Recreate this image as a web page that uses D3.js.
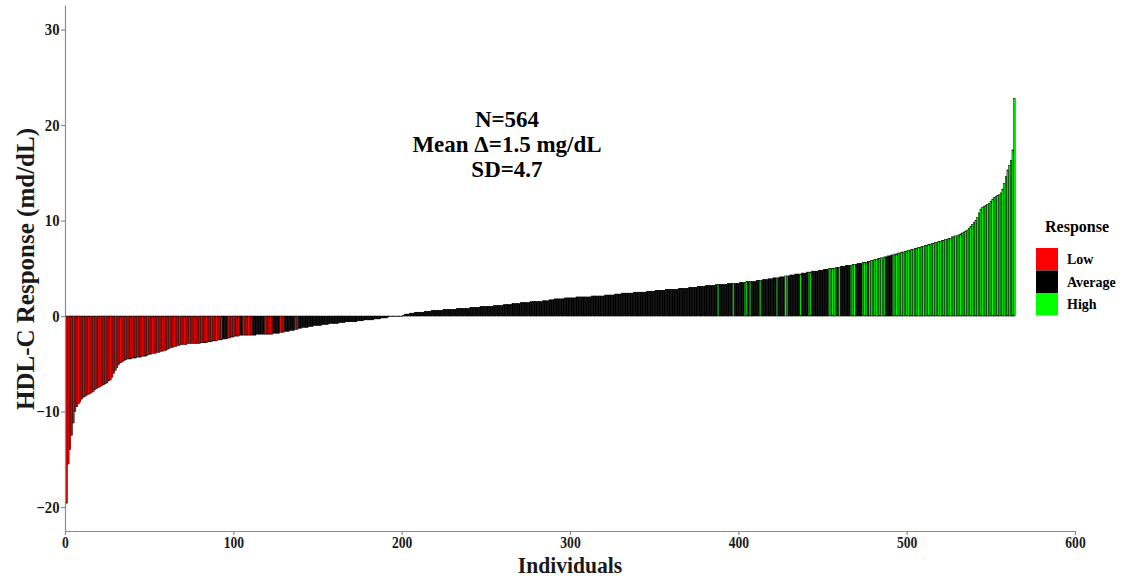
<!DOCTYPE html>
<html>
<head>
<meta charset="utf-8">
<script src="https://cdn.jsdelivr.net/npm/d3@7"></script>
<style>
html,body{margin:0;padding:0;background:#fff;}
svg{display:block;}
text{font-family:"Liberation Serif","Times New Roman",serif;font-weight:bold;}
</style>
</head>
<body>
<svg id="chart" width="1130" height="578"></svg>
<script>
// HDL-C response per individual, sorted ascending (mg/dL)
const hdlResponse = [
-19.6,-15.5,-14.0,-12.5,-11.2,-10.0,-9.5,-9.2,-9.0,-8.7,
-8.5,-8.4,-8.3,-8.2,-8.1,-8.0,-7.9,-7.7,-7.6,-7.5,
-7.4,-7.3,-7.2,-7.1,-7.0,-6.8,-6.7,-6.4,-6.0,-5.7,
-5.4,-5.1,-4.9,-4.8,-4.7,-4.6,-4.5,-4.5,-4.5,-4.4,
-4.4,-4.4,-4.3,-4.3,-4.3,-4.2,-4.2,-4.2,-4.1,-4.0,
-4.0,-3.9,-3.9,-3.9,-3.8,-3.8,-3.7,-3.7,-3.6,-3.6,
-3.5,-3.4,-3.3,-3.3,-3.2,-3.2,-3.1,-3.1,-3.0,-3.0,
-3.0,-3.0,-2.9,-2.9,-2.9,-2.9,-2.9,-2.9,-2.9,-2.9,
-2.8,-2.8,-2.8,-2.8,-2.7,-2.7,-2.7,-2.6,-2.6,-2.6,
-2.5,-2.5,-2.5,-2.4,-2.4,-2.4,-2.3,-2.3,-2.2,-2.2,
-2.1,-2.1,-2.1,-2.0,-2.0,-2.0,-2.0,-2.0,-2.0,-2.0,
-2.0,-2.0,-2.0,-1.9,-1.9,-1.9,-1.9,-1.9,-1.9,-1.9,
-1.9,-1.9,-1.9,-1.8,-1.8,-1.8,-1.8,-1.7,-1.7,-1.7,
-1.6,-1.6,-1.6,-1.5,-1.5,-1.5,-1.4,-1.4,-1.3,-1.3,
-1.2,-1.2,-1.2,-1.2,-1.1,-1.1,-1.1,-1.0,-1.0,-1.0,
-1.0,-1.0,-0.9,-0.9,-0.9,-0.9,-0.8,-0.8,-0.8,-0.8,
-0.8,-0.8,-0.7,-0.7,-0.7,-0.7,-0.6,-0.6,-0.6,-0.6,
-0.6,-0.6,-0.6,-0.5,-0.5,-0.5,-0.5,-0.4,-0.4,-0.4,
-0.4,-0.4,-0.4,-0.3,-0.3,-0.3,-0.3,-0.2,-0.2,-0.2,
-0.2,-0.1,-0.05,0,0,0,0,0,0,0,
0.05,0.2,0.2,0.2,0.3,0.3,0.3,0.4,0.4,0.4,
0.4,0.4,0.4,0.5,0.5,0.5,0.5,0.6,0.6,0.6,
0.6,0.6,0.6,0.6,0.7,0.7,0.7,0.7,0.7,0.7,
0.7,0.7,0.8,0.8,0.8,0.8,0.8,0.8,0.8,0.8,
0.9,0.9,0.9,0.9,0.9,0.9,1.0,1.0,1.0,1.0,
1.0,1.0,1.0,1.0,1.1,1.1,1.1,1.1,1.1,1.1,
1.2,1.2,1.2,1.2,1.2,1.3,1.3,1.3,1.3,1.3,
1.4,1.4,1.4,1.4,1.4,1.4,1.5,1.5,1.5,1.5,
1.5,1.5,1.5,1.6,1.6,1.6,1.6,1.7,1.7,1.7,
1.8,1.8,1.8,1.8,1.8,1.8,1.9,1.9,1.9,1.9,
1.9,1.9,1.9,2.0,2.0,2.0,2.0,2.0,2.0,2.0,
2.0,2.0,2.1,2.1,2.1,2.1,2.1,2.1,2.1,2.1,
2.2,2.2,2.2,2.2,2.2,2.2,2.3,2.3,2.3,2.3,
2.4,2.4,2.4,2.4,2.4,2.4,2.4,2.5,2.5,2.5,
2.5,2.5,2.5,2.5,2.5,2.6,2.6,2.6,2.6,2.6,
2.7,2.7,2.7,2.7,2.7,2.7,2.8,2.8,2.8,2.8,
2.8,2.8,2.8,2.8,2.9,2.9,2.9,2.9,2.9,2.9,
3.0,3.0,3.0,3.0,3.0,3.1,3.1,3.1,3.1,3.1,
3.2,3.2,3.2,3.2,3.2,3.2,3.3,3.3,3.3,3.3,
3.3,3.3,3.3,3.4,3.4,3.4,3.4,3.4,3.4,3.4,
3.5,3.5,3.5,3.5,3.6,3.6,3.6,3.6,3.6,3.6,
3.7,3.7,3.7,3.7,3.8,3.8,3.8,3.9,3.9,3.9,
4.0,4.0,4.0,4.0,4.1,4.1,4.1,4.2,4.2,4.2,
4.3,4.3,4.3,4.4,4.4,4.4,4.4,4.5,4.5,4.5,
4.6,4.6,4.6,4.7,4.7,4.7,4.7,4.8,4.8,4.8,
4.9,4.9,4.9,5.0,5.0,5.0,5.0,5.1,5.1,5.1,
5.2,5.2,5.2,5.3,5.3,5.3,5.3,5.4,5.4,5.4,
5.5,5.5,5.5,5.6,5.6,5.6,5.7,5.7,5.8,5.8,
5.9,5.9,6.0,6.0,6.1,6.1,6.2,6.2,6.3,6.3,
6.4,6.4,6.5,6.5,6.6,6.6,6.7,6.7,6.8,6.8,
6.9,6.9,7.0,7.0,7.1,7.1,7.2,7.2,7.3,7.3,
7.4,7.4,7.5,7.5,7.6,7.6,7.7,7.7,7.8,7.8,
7.9,7.9,8.0,8.0,8.1,8.1,8.3,8.3,8.4,8.4,
8.5,8.6,8.7,8.8,8.9,9.0,9.2,9.4,9.6,9.8,
10.0,10.3,10.8,11.2,11.4,11.5,11.6,11.7,11.8,12.0,
12.2,12.4,12.5,12.6,12.7,12.9,13.3,13.9,14.6,15.3,
15.8,16.3,17.4,22.8
];

// Response class of each bar in order, as consecutive groups [class, number of bars]
const responseGroups = [
["Low",93],["Average",3],["Low",7],["Average",2],["Low",6],["Average",7],["Low",5],
["Average",4],["Low",3],["Average",6],["Low",2],["Average",249],
["High",1],["Average",8],["High",1],["Average",6],["High",2],["Average",1],["High",1],
["Average",5],["High",1],["Average",9],["High",1],["Average",4],["High",2],["Average",7],
["High",1],["Average",4],["High",2],["Average",10],["High",5],["Average",1],["High",1],
["Average",6],["High",3],["Average",4],["High",3],["Average",1],["High",10],["Average",4],
["High",73]
];

const legendLabels = ["Low","Average","High"];
const legendColors = ["#ff0000","#000000","#00ff00"];
const xTicks = [0,100,200,300,400,500,600];
const yTicks = [-20,-10,0,10,20,30];
const annotationLines = ["N=564","Mean \u0394=1.5 mg/dL","SD=4.7"];

const responseClass = [];
responseGroups.forEach(([c,n]) => { for (let k=0;k<n;k++) responseClass.push(c); });
const bars = hdlResponse.map((v,i) => ({idx:i+1, value:v, cls:responseClass[i]}));

const svg = d3.select("#chart");
const x = d3.scaleLinear().domain([0,600]).range([65,1075]);
const y = d3.scaleLinear().domain([-22.51,32.57]).range([531,5]);
const color = d3.scaleOrdinal().domain(legendLabels).range(legendColors);
const bw = (x(1)-x(0))*0.9;

svg.append("g").selectAll("rect").data(bars).enter().append("rect")
  .attr("x", d => x(d.idx)-bw/2)
  .attr("width", bw)
  .attr("y", d => y(Math.max(0,d.value)))
  .attr("height", d => Math.max(0.5, Math.abs(y(d.value)-y(0))))
  .attr("fill", d => color(d.cls))
  .attr("stroke", "#000")
  .attr("stroke-width", 0.5);

// axes
const xAxis = svg.append("g").attr("transform","translate(0,531)")
  .call(d3.axisBottom(x).tickValues(xTicks).tickSize(4).tickSizeOuter(0).tickFormat(d3.format("d")));
const yAxis = svg.append("g").attr("transform","translate(65,0)")
  .call(d3.axisLeft(y).tickValues(yTicks).tickSize(4).tickSizeOuter(0).tickFormat(d3.format("d")));
[xAxis,yAxis].forEach(a => {
  a.select(".domain").attr("stroke","#8c8c8c").attr("stroke-width",1.2);
  a.selectAll(".tick line").attr("stroke","#8c8c8c").attr("stroke-width",1.2);
  a.selectAll(".tick text").attr("fill","#1a1a1a").style("font-size","16px")
   .style("font-family","'Liberation Serif',serif").style("font-weight","bold");
});
xAxis.selectAll(".tick text").attr("y",6).attr("dy","0.71em").attr("transform","scale(0.85,1)");
yAxis.selectAll(".tick text").attr("x",-6).attr("transform","scale(0.92,1)");

// axis titles
svg.append("text").attr("transform","translate(570,573) scale(0.9,1)")
  .attr("text-anchor","middle").style("font-size","24px").attr("fill","#1a1a1a").text("Individuals");
svg.append("text").attr("transform","translate(34,269) rotate(-90)")
  .attr("text-anchor","middle").style("font-size","25px").attr("fill","#1a1a1a").text("HDL-C Response (md/dL)");

// annotation
svg.append("g").selectAll("text").data(annotationLines).enter().append("text")
  .attr("x",507).attr("y",(d,i)=>127+i*25)
  .attr("text-anchor","middle").style("font-size","23px").attr("fill","#000").text(d=>d);

// legend
const lg = svg.append("g");
lg.append("text").attr("x",1045).attr("y",232).style("font-size","16px").attr("fill","#000").text("Response");
lg.selectAll("rect").data(legendLabels).enter().append("rect")
  .attr("x",1036).attr("y",(d,i)=>248+i*22.5).attr("width",22).attr("height",22.5)
  .attr("fill",d=>color(d));
lg.selectAll("text.lab").data(legendLabels).enter().append("text").attr("class","lab")
  .attr("x",1067).attr("y",(d,i)=>264+i*22.5).style("font-size","14px").attr("fill","#000").text(d=>d);
</script>
</body>
</html>
